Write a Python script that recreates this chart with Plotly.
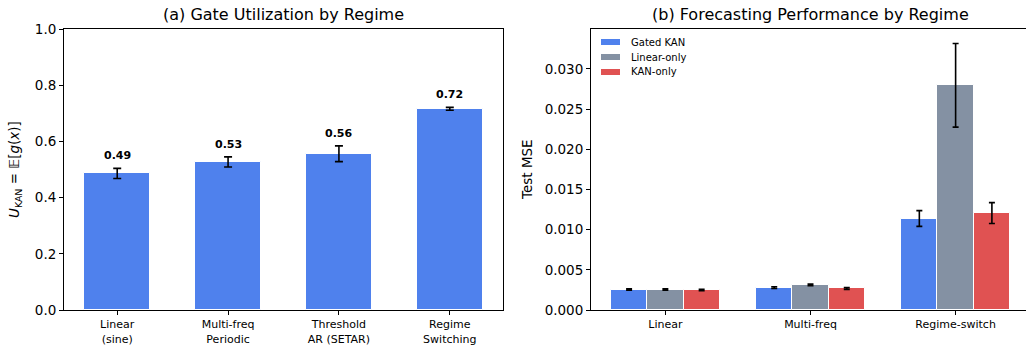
import plotly.graph_objects as go

# Panel (a): gate utilization per regime
regimes_a = ["Linear<br>(sine)", "Multi-freq<br>Periodic", "Threshold<br>AR (SETAR)", "Regime<br>Switching"]
util_mean = [0.486, 0.527, 0.556, 0.716]
util_std = [0.018, 0.018, 0.028, 0.005]

# Panel (b): test MSE per regime and model
regimes_b = ["Linear", "Multi-freq", "Regime-switch"]
models = ["Gated KAN", "Linear-only", "KAN-only"]
mse_mean = {
    "Gated KAN": [0.00255, 0.00279, 0.01138],
    "Linear-only": [0.00255, 0.00312, 0.02795],
    "KAN-only": [0.00250, 0.00268, 0.01205],
}
mse_std = {
    "Gated KAN": [0.00009, 0.00011, 0.00098],
    "Linear-only": [0.00008, 0.00010, 0.00520],
    "KAN-only": [0.00009, 0.00011, 0.00130],
}

colors = {"Gated KAN": "#4F81ED", "Linear-only": "#8491A3", "KAN-only": "#E05252"}
FONT = "DejaVu Sans"
W, H = 1026, 347

fig = go.Figure()

# Panel (a)
xa = list(range(len(regimes_a)))
fig.add_trace(go.Bar(
    x=xa, y=util_mean, width=0.6,
    marker=dict(color=colors["Gated KAN"], line=dict(color="white", width=1)),
    error_y=dict(type="data", array=util_std, color="black", thickness=1.6, width=4),
    xaxis="x", yaxis="y", showlegend=False,
))

# Panel (b): grouped bars, offset by bar width
bw = 0.25
for i, m in enumerate(models):
    xs = [k + (i - 1) * bw for k in range(len(regimes_b))]
    fig.add_trace(go.Bar(
        x=xs, y=mse_mean[m], width=bw, name=m, showlegend=False,
        marker=dict(color=colors[m], line=dict(color="white", width=1)),
        error_y=dict(type="data", array=mse_std[m], color="black", thickness=1.6, width=3),
        xaxis="x2", yaxis="y2",
    ))

ydom = [(H - 310) / H, (H - 29) / H]
axis_common = dict(showgrid=False, zeroline=False, showline=True, linecolor="black",
                   linewidth=1, ticks="outside", ticklen=4, tickcolor="black",
                   automargin=False)

fig.update_layout(
    width=W, height=H,
    margin=dict(l=0, r=0, t=0, b=0),
    paper_bgcolor="white", plot_bgcolor="white",
    font=dict(family=FONT, color="black"),
    barmode="overlay",
    bargap=0,
    showlegend=False,
    xaxis=dict(domain=[64 / W, 503 / W], range=[-0.48, 3.48], tickvals=xa, ticktext=regimes_a,
               tickfont=dict(size=11), mirror=True, anchor="y", **axis_common),
    yaxis=dict(domain=ydom, range=[0, 1.0], tickvals=[0, 0.2, 0.4, 0.6, 0.8, 1.0],
               tickformat=".1f", tickfont=dict(size=13.5), mirror=True, anchor="x", **axis_common),
    xaxis2=dict(domain=[591 / W, 1.0], range=[-0.5125, 2.485], tickvals=list(range(len(regimes_b))),
                ticktext=regimes_b, tickfont=dict(size=11), mirror=True, anchor="y2", **axis_common),
    yaxis2=dict(domain=ydom, range=[0, 0.03495],
                tickvals=[0, 0.005, 0.01, 0.015, 0.02, 0.025, 0.03],
                tickformat=".3f", tickfont=dict(size=13.5), mirror=False, anchor="x2", **axis_common),
)

ann = []
shapes = []
# Value labels above the error bars
for k, (v, s) in enumerate(zip(util_mean, util_std)):
    ann.append(dict(x=k, y=v + s, xref="x", yref="y", text=f"<b>{v:.2f}</b>",
                    showarrow=False, yanchor="bottom", yshift=4, font=dict(size=11)))
# Panel titles
ann.append(dict(x=283.5 / W, y=(H - 14) / H, xref="paper", yref="paper",
                text="(a) Gate Utilization by Regime", showarrow=False,
                font=dict(size=16), xanchor="center", yanchor="middle"))
ann.append(dict(x=810 / W, y=(H - 14) / H, xref="paper", yref="paper",
                text="(b) Forecasting Performance by Regime", showarrow=False,
                font=dict(size=16), xanchor="center", yanchor="middle"))
# Y-axis titles
ann.append(dict(x=15 / W, y=(H - 170) / H, xref="paper", yref="paper",
                text="<i>U</i><sub>KAN</sub> = 𝔼[<i>g</i>(<i>x</i>)]", showarrow=False,
                textangle=-90, font=dict(size=13.5), xanchor="center", yanchor="middle"))
ann.append(dict(x=527 / W, y=(H - 170) / H, xref="paper", yref="paper",
                text="Test MSE", showarrow=False,
                textangle=-90, font=dict(size=13.5), xanchor="center", yanchor="middle"))

# Compact legend: colour swatch + model name per row
for i, m in enumerate(models):
    yc = 42 + 15 * i
    shapes.append(dict(type="rect", xref="paper", yref="paper",
                       x0=601 / W, x1=620 / W, y0=(H - yc - 3) / H, y1=(H - yc + 3) / H,
                       fillcolor=colors[m], line=dict(width=0)))
    ann.append(dict(x=629 / W, y=(H - yc) / H, xref="paper", yref="paper", text=m,
                    showarrow=False, xanchor="left", yanchor="middle", font=dict(size=10)))

fig.update_layout(annotations=ann, shapes=shapes)

fig.write_html("out.html")
